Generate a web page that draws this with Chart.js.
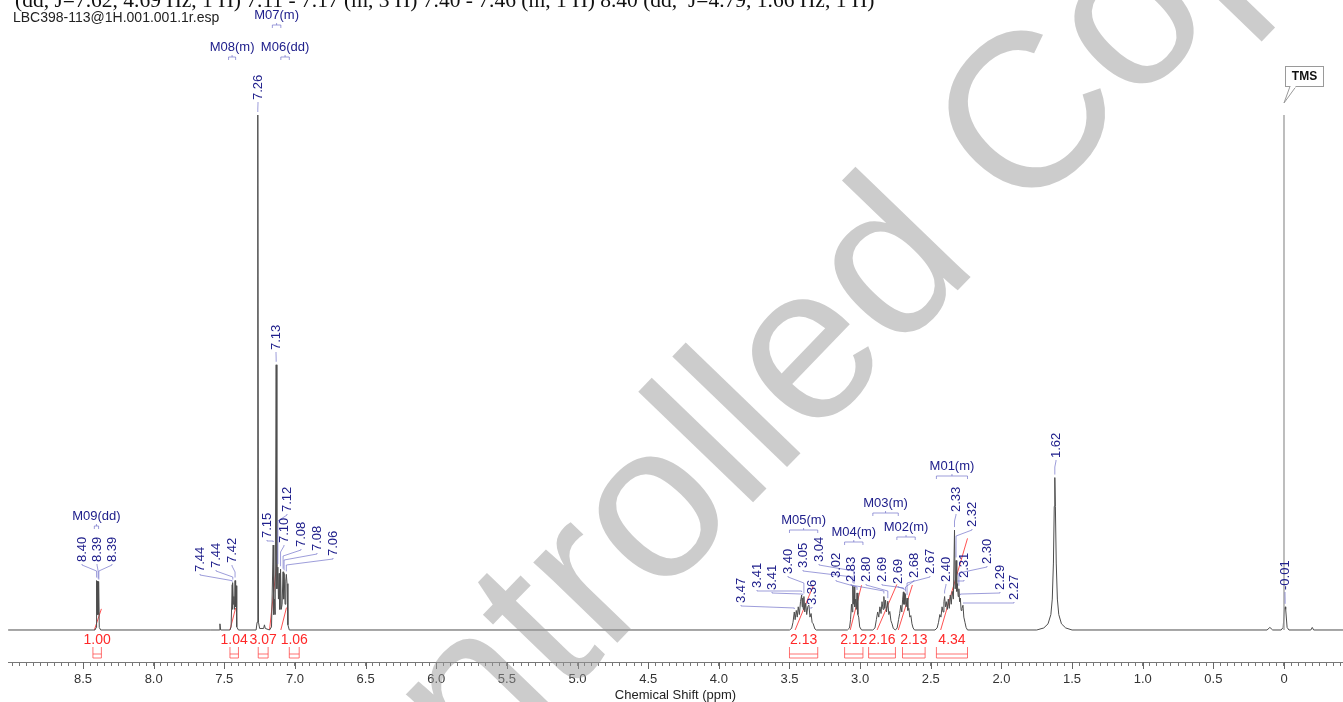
<!DOCTYPE html>
<html>
<head>
<meta charset="utf-8">
<script src="https://cdn.jsdelivr.net/npm/chart.js@4.4.1/dist/chart.umd.min.js"></script>
<style>
  html, body { margin: 0; padding: 0; background: #fff; overflow: hidden; }
  #wrap { position: relative; width: 1343px; height: 702px; }
</style>
</head>
<body>
<div id="wrap"><canvas id="nmr" width="1343" height="702"></canvas></div>
<script>
// 1H spectrum, LBC398-113 (CDCl3)
const headerLine = '(dd, J=7.62, 4.69 Hz, 1 H) 7.11 - 7.17 (m, 3 H) 7.40 - 7.46 (m, 1 H) 8.40 (dd,  J=4.79, 1.66 Hz, 1 H)';
const fileName = 'LBC398-113@1H.001.001.1r.esp';

// spectrum trace: [shift (ppm), intensity (% of full scale)]
const spectrum = [
  [9.03, 0], [8.415, 0], [8.407, 0.5], [8.404, 9.6], [8.401, 3], [8.398, 9.5], [8.396, 3],
  [8.393, 9.4], [8.391, 3], [8.388, 9.2], [8.385, 0.5], [8.375, 0],
  [7.60, 0], [7.536, 0], [7.531, 1.2], [7.526, 0],
  [7.46, 0], [7.452, 0.6], [7.444, 8.8], [7.442, 4], [7.440, 9.2], [7.436, 5], [7.432, 6.5],
  [7.428, 4], [7.424, 9.6], [7.420, 4.5], [7.417, 8.6], [7.412, 0.6], [7.40, 0],
  [7.275, 0], [7.268, 1.5], [7.263, 100], [7.258, 1.5], [7.25, 0.3],
  [7.222, 0.3], [7.216, 1.0], [7.210, 0.3],
  [7.18, 0], [7.166, 0.6], [7.154, 16.5], [7.150, 3], [7.145, 6], [7.140, 3], [7.133, 51.5],
  [7.128, 8], [7.121, 12.2], [7.117, 6], [7.112, 11], [7.107, 4], [7.102, 11.8], [7.097, 4],
  [7.091, 5], [7.084, 11.3], [7.080, 6], [7.077, 11], [7.070, 5], [7.065, 9.5], [7.061, 10.8],
  [7.056, 9], [7.050, 1], [7.04, 0],
  [3.50, 0], [3.485, 0.3], [3.475, 1.5], [3.466, 3.5], [3.460, 2], [3.452, 3.8], [3.445, 2.5],
  [3.438, 4.5], [3.430, 3], [3.422, 5.5], [3.414, 6.8], [3.410, 4.5], [3.406, 6.2], [3.402, 4],
  [3.398, 6.5], [3.392, 3.5], [3.385, 5.2], [3.378, 3], [3.370, 4.6], [3.362, 4.8], [3.355, 2.5],
  [3.347, 3.2], [3.340, 1.5], [3.332, 1.2], [3.32, 0.2], [3.31, 0],
  [3.09, 0], [3.075, 0.4], [3.068, 2], [3.061, 5], [3.056, 3.5], [3.052, 8.6], [3.048, 5],
  [3.043, 8.4], [3.038, 4.5], [3.031, 6], [3.027, 4], [3.022, 7.2], [3.016, 3], [3.010, 2.5],
  [3.003, 0.6], [2.99, 0],
  [2.91, 0], [2.895, 0.4], [2.885, 2], [2.876, 3.5], [2.868, 2.5], [2.860, 4.5], [2.852, 3.2],
  [2.845, 5.5], [2.838, 4], [2.832, 6.5], [2.826, 4.2], [2.820, 5.8], [2.813, 3.5], [2.804, 5.6],
  [2.797, 3], [2.790, 3.6], [2.782, 1.8], [2.774, 1.2], [2.765, 0.3],
  [2.75, 0], [2.738, 0.4], [2.728, 2], [2.720, 3.2], [2.712, 4.8], [2.705, 3.5], [2.699, 6],
  [2.694, 7.4], [2.691, 5], [2.688, 7.2], [2.684, 5], [2.679, 6.9], [2.674, 4.5], [2.668, 6.2],
  [2.662, 3.8], [2.655, 4.2], [2.648, 2.5], [2.641, 2.8], [2.633, 1.2], [2.625, 0.4], [2.615, 0],
  [2.47, 0], [2.455, 0.4], [2.445, 1.5], [2.436, 3], [2.428, 2.5], [2.420, 4.5], [2.413, 3.5],
  [2.407, 5.5], [2.402, 6.5], [2.396, 4.5], [2.390, 5.5], [2.383, 4], [2.376, 6], [2.369, 4.2],
  [2.362, 6.8], [2.355, 5], [2.348, 7.5], [2.340, 6], [2.332, 19.4], [2.327, 8], [2.321, 13.5],
  [2.316, 7.5], [2.312, 9], [2.306, 6.5], [2.301, 8], [2.296, 5.5], [2.291, 6.2], [2.285, 3.8],
  [2.279, 4.2], [2.272, 4.8], [2.266, 2.5], [2.258, 1.5], [2.250, 0.5], [2.24, 0],
  [1.75, 0], [1.70, 0.4], [1.67, 1.2], [1.65, 3], [1.64, 6], [1.632, 13], [1.626, 24],
  [1.622, 29.6], [1.618, 24], [1.612, 13], [1.604, 6], [1.594, 3], [1.575, 1.2], [1.545, 0.4],
  [1.50, 0], [0.12, 0], [0.10, 0.5], [0.08, 0],
  [0.02, 0], [0.006, 0.5], [-0.004, 4.3], [-0.008, 4.5], [-0.012, 4], [-0.022, 0.5], [-0.035, 0],
  [-0.19, 0], [-0.20, 0.5], [-0.21, 0], [-0.4176, 0]
];

// TMS reference line
const tmsShift = 0.0;

// picked peaks (ppm), printed to 2 decimals
const peakShifts = [
  8.404, 8.393, 8.388, 7.444, 7.440, 7.424, 7.263,
  7.154, 7.133, 7.121, 7.102, 7.084, 7.077, 7.061,
  3.466, 3.414, 3.406, 3.398, 3.362, 3.052, 3.043, 3.022,
  2.832, 2.804, 2.694, 2.688, 2.679, 2.668,
  2.402, 2.332, 2.321, 2.312, 2.301, 2.291, 2.272,
  1.622, -0.008
];

// integrals
const integralValues = [1.00, 1.04, 3.07, 1.06, 2.13, 2.12, 2.16, 2.13, 4.34];
const integralCurveFrom = [8.42, 7.46, 7.18, 7.10, 3.46, 3.07, 2.88, 2.73, 2.43];
const integralCurveTo = [8.37, 7.42, 7.13, 7.06, 3.33, 2.99, 2.74, 2.63, 2.24];
const integralRangeFrom = [8.43, 7.46, 7.26, 7.04, 3.50, 3.11, 2.94, 2.70, 2.46];
const integralRangeTo = [8.37, 7.40, 7.19, 6.97, 3.30, 2.98, 2.75, 2.54, 2.24];

// multiplet analysis
const multipletNames = ['M09(dd)', 'M08(m)', 'M07(m)', 'M06(dd)', 'M05(m)', 'M04(m)', 'M03(m)', 'M02(m)', 'M01(m)'];
const multipletFrom = [8.42, 7.47, 7.16, 7.10, 3.50, 3.11, 2.91, 2.74, 2.46];
const multipletTo = [8.39, 7.42, 7.10, 7.04, 3.30, 2.98, 2.73, 2.61, 2.24];

// axis
const tickLabelValues = [8.5, 8.0, 7.5, 7.0, 6.5, 6.0, 5.5, 5.0, 4.5, 4.0, 3.5, 3.0, 2.5, 2.0, 1.5, 1.0, 0.5, 0];
const tickLabels = ['8.5', '8.0', '7.5', '7.0', '6.5', '6.0', '5.5', '5.0', '4.5', '4.0', '3.5', '3.0', '2.5', '2.0', '1.5', '1.0', '0.5', '0'];

// ---- layout (pixels) ----
// label anchor: [x centre, bottom of the vertical text]
const labelSlots = [
  [82, 562], [97, 562], [112, 562], [200, 572], [216, 568], [232, 563], [258, 100],
  [267, 538], [276, 350], [287, 512], [284, 543], [301, 547], [317, 551], [333, 556],
  [741, 603], [757, 588], [772, 590], [788, 574], [812, 605], [803, 568], [819, 562], [836, 578],
  [851, 582], [866, 582], [882, 582], [898, 584], [914, 578], [930, 574],
  [946, 582], [956, 512], [972, 527], [964, 578], [987, 564], [1000, 590], [1014, 600],
  [1056, 458], [1285, 590]
];
const multipletTextY = [516, 47, 15, 47, 520, 532, 503, 527, 466];
const integralScale = 4.1;

const SANS = '"Liberation Sans", Arial, sans-serif';
const NAVY = 'rgb(32, 32, 140)';
const LEADER = 'rgba(110, 110, 200, 0.85)';
const RED = 'rgb(255, 40, 40)';

const minorTicks = [];
for (let i = -8; i <= 180; i++) minorTicks.push(i / 20);

function intensityAt(ppm) {
  for (let i = 0; i < spectrum.length - 1; i++) {
    const a = spectrum[i], b = spectrum[i + 1];
    if (a[0] >= ppm && ppm >= b[0]) {
      const t = a[0] === b[0] ? 0 : (a[0] - ppm) / (a[0] - b[0]);
      return a[1] + (b[1] - a[1]) * t;
    }
  }
  return 0;
}

function bracketDown(ctx, x1, x2, yTop) {
  // ⊓ shaped bracket with a stem towards the text above
  const mid = (x1 + x2) / 2;
  ctx.beginPath();
  ctx.moveTo(x1, yTop + 3);
  ctx.lineTo(x1, yTop);
  ctx.lineTo(x2, yTop);
  ctx.lineTo(x2, yTop + 3);
  ctx.moveTo(mid, yTop);
  ctx.lineTo(mid, yTop - 2);
  ctx.stroke();
}

const annotate = {
  id: 'annotate',
  afterDatasetsDraw(chart) {
    const { ctx } = chart;
    const x = chart.scales.x, y = chart.scales.y;
    ctx.save();

    // peak labels with leader lines
    ctx.lineWidth = 0.8;
    peakShifts.forEach((v, i) => {
      const [lx, lb] = labelSlots[i];
      const px = x.getPixelForValue(v);
      const py = y.getPixelForValue(intensityAt(v));
      const k1 = lb + 3;
      const k2 = Math.max(k1, Math.min(lb + 9, py - 4));
      ctx.strokeStyle = LEADER;
      ctx.beginPath();
      ctx.moveTo(lx, lb + 2);
      ctx.lineTo(lx, k1);
      ctx.lineTo(px, k2);
      ctx.lineTo(px, Math.max(k2, py - 3));
      ctx.stroke();

      ctx.save();
      ctx.translate(lx, lb);
      ctx.rotate(-Math.PI / 2);
      ctx.fillStyle = NAVY;
      ctx.font = '13px ' + SANS;
      ctx.textAlign = 'left';
      ctx.textBaseline = 'middle';
      ctx.fillText(v.toFixed(2), 0, 0.5);
      ctx.restore();
    });

    // multiplet names and brackets
    ctx.font = '13px ' + SANS;
    ctx.textAlign = 'center';
    ctx.textBaseline = 'middle';
    multipletNames.forEach((name, i) => {
      const x1 = x.getPixelForValue(multipletFrom[i]);
      const x2 = x.getPixelForValue(multipletTo[i]);
      const ty = multipletTextY[i];
      ctx.fillStyle = NAVY;
      ctx.fillText(name, (x1 + x2) / 2, ty);
      ctx.strokeStyle = LEADER;
      bracketDown(ctx, x1, x2, ty + 10);
    });

    // integral values and ranges
    ctx.font = '14px ' + SANS;
    integralValues.forEach((val, i) => {
      const x1 = x.getPixelForValue(integralRangeFrom[i]);
      const x2 = x.getPixelForValue(integralRangeTo[i]);
      ctx.fillStyle = RED;
      ctx.fillText(val.toFixed(2), (x1 + x2) / 2, 640);
      ctx.strokeStyle = 'rgba(255, 60, 60, 0.9)';
      ctx.lineWidth = 0.8;
      ctx.beginPath();
      ctx.moveTo(x1, 647); ctx.lineTo(x1, 658);
      ctx.moveTo(x2, 647); ctx.lineTo(x2, 658);
      ctx.moveTo(x1, 654); ctx.lineTo(x2, 654);
      ctx.moveTo(x1, 658); ctx.lineTo(x2, 658);
      ctx.stroke();
    });

    // TMS callout
    const tx = x.getPixelForValue(tmsShift);
    ctx.fillStyle = '#fff';
    ctx.strokeStyle = '#9a9a9a';
    ctx.lineWidth = 1;
    ctx.fillRect(tx + 1, 66, 38, 20);
    ctx.strokeRect(tx + 1.5, 66.5, 38, 20);
    ctx.beginPath();
    ctx.moveTo(tx + 6, 86.5);
    ctx.lineTo(tx, 103);
    ctx.lineTo(tx + 12, 86.5);
    ctx.stroke();
    ctx.fillStyle = '#fff';
    ctx.fillRect(tx + 6.5, 85, 5, 3);
    ctx.fillStyle = '#111';
    ctx.font = 'bold 12px ' + SANS;
    ctx.fillText('TMS', tx + 20.5, 77);

    ctx.restore();
  },
  afterDraw(chart) {
    const { ctx } = chart;
    const x = chart.scales.x;
    ctx.save();

    // longer ticks at the labelled positions
    ctx.strokeStyle = '#666';
    ctx.lineWidth = 1;
    ctx.beginPath();
    tickLabelValues.forEach(v => {
      const px = Math.round(x.getPixelForValue(v)) + 0.5;
      ctx.moveTo(px, x.top);
      ctx.lineTo(px, x.top + 7);
    });
    ctx.stroke();

    // header lines
    ctx.fillStyle = '#111';
    ctx.textBaseline = 'alphabetic';
    ctx.textAlign = 'left';
    ctx.font = '20px "Liberation Serif", "Times New Roman", serif';
    const w = ctx.measureText(headerLine).width;
    ctx.font = (20 * 860 / w).toFixed(2) + 'px "Liberation Serif", "Times New Roman", serif';
    ctx.fillText(headerLine, 15, 7);
    ctx.fillStyle = '#222';
    ctx.font = '14px ' + SANS;
    ctx.fillText(fileName, 13, 22);

    // watermark
    ctx.translate(284, 988);
    ctx.rotate(-46 * Math.PI / 180);
    ctx.fillStyle = 'rgba(153, 153, 153, 0.5)';
    ctx.font = '220px ' + SANS;
    ctx.fillText('Controlled Copy', 0, 0);
    ctx.restore();
  }
};

const datasets = [
  {
    label: 'TMS',
    data: [{ x: tmsShift, y: 0 }, { x: tmsShift, y: 100 }],
    borderColor: '#a8a8a8',
    borderWidth: 1.5
  },
  {
    label: '1H',
    data: spectrum.map(p => ({ x: p[0], y: p[1] })),
    borderColor: '#4d4d4d',
    borderWidth: 1
  }
];
integralValues.forEach((val, i) => {
  datasets.push({
    label: 'int ' + val,
    data: [
      { x: integralCurveFrom[i], y: 0 },
      { x: integralCurveTo[i], y: val * integralScale }
    ],
    borderColor: 'rgba(255, 50, 50, 0.85)',
    borderWidth: 1
  });
});

new Chart(document.getElementById('nmr'), {
  type: 'line',
  data: { datasets: datasets },
  options: {
    responsive: false,
    animation: false,
    devicePixelRatio: 1,
    layout: { padding: { left: 8, right: 0, top: 20, bottom: 0 } },
    elements: { point: { radius: 0 }, line: { tension: 0 } },
    plugins: { legend: { display: false }, tooltip: { enabled: false } },
    scales: {
      x: {
        type: 'linear',
        reverse: true,
        min: -0.4176,
        max: 9.031,
        afterBuildTicks: axis => { axis.ticks = minorTicks.map(v => ({ value: v })); },
        afterFit: axis => { axis.height = 40; },
        ticks: {
          autoSkip: false,
          maxRotation: 0,
          padding: 6,
          color: '#333',
          font: { family: SANS, size: 13 },
          callback: value => {
            const i = tickLabelValues.findIndex(t => Math.abs(t - value) < 1e-6);
            return i >= 0 ? tickLabels[i] : '';
          }
        },
        grid: { drawOnChartArea: false, tickLength: 4, color: '#777' },
        border: { color: '#777' },
        title: {
          display: true,
          text: 'Chemical Shift (ppm)',
          color: '#222',
          font: { family: SANS, size: 13 },
          padding: { top: 0, bottom: -1 }
        }
      },
      y: { display: false, min: -6.214, max: 118.45 }
    }
  },
  plugins: [annotate]
});
</script>
</body>
</html>
